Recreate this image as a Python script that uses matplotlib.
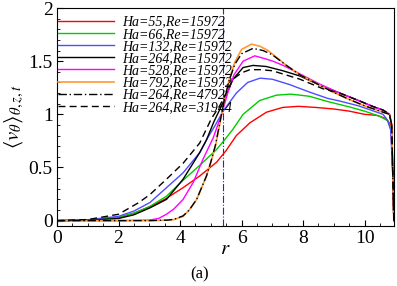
import numpy as np
import matplotlib
matplotlib.use('Agg')
import matplotlib.pyplot as plt
from matplotlib.ticker import MultipleLocator

plt.rcParams['font.family'] = ['Liberation Serif', 'DejaVu Serif']
plt.rcParams['mathtext.fontset'] = 'stix'

# data: r and <v_theta>
r_55 = [0, 1.0, 2.0, 2.5, 3.0, 3.5, 4.1, 4.64, 5.19, 5.5, 5.83, 6.27, 6.81, 7.34, 7.85, 8.4, 9.0, 9.5, 10.0, 10.4, 10.7, 10.85, 10.91, 10.95]
v_55 = [0, 0.005, 0.03, 0.07, 0.13, 0.2, 0.31, 0.42, 0.55, 0.66, 0.8, 0.92, 1.02, 1.065, 1.075, 1.065, 1.05, 1.03, 1.0, 0.99, 0.96, 0.9, 0.5, 0]

r_66 = [0, 1.0, 2.0, 2.5, 3.0, 3.56, 4.1, 4.64, 5.19, 5.45, 5.72, 6.05, 6.59, 7.13, 7.6, 8.2, 8.8, 9.5, 10.0, 10.5, 10.75, 10.87, 10.92, 10.95]
v_66 = [0, 0.005, 0.03, 0.07, 0.13, 0.23, 0.38, 0.52, 0.67, 0.76, 0.86, 1.0, 1.13, 1.18, 1.19, 1.17, 1.12, 1.07, 1.03, 0.98, 0.94, 0.85, 0.4, 0]

r_132 = [0, 1.0, 2.0, 2.5, 3.02, 3.56, 4.1, 4.64, 4.9, 5.15, 5.4, 5.83, 6.2, 6.6, 7.0, 7.56, 8.2, 8.8, 9.19, 9.8, 10.3, 10.6, 10.75, 10.85, 10.92, 10.95]
v_132 = [0, 0.008, 0.04, 0.09, 0.17, 0.31, 0.45, 0.64, 0.78, 0.9, 1.03, 1.2, 1.3, 1.34, 1.33, 1.28, 1.21, 1.15, 1.125, 1.08, 1.03, 1.0, 0.94, 0.85, 0.4, 0]

r_264 = [0, 1.0, 2.0, 2.5, 3.02, 3.56, 4.1, 4.64, 4.86, 5.1, 5.4, 5.72, 6.05, 6.37, 6.8, 7.34, 7.9, 8.5, 9.19, 9.8, 10.3, 10.6, 10.81, 10.88, 10.92, 10.95]
v_264 = [0, 0.003, 0.02, 0.055, 0.12, 0.2, 0.39, 0.64, 0.76, 0.93, 1.11, 1.33, 1.44, 1.46, 1.45, 1.41, 1.36, 1.28, 1.2, 1.13, 1.07, 1.04, 1.0, 0.9, 0.4, 0]

r_528 = [0, 2.0, 3.0, 3.3, 3.56, 3.8, 4.1, 4.43, 4.75, 5.08, 5.35, 5.55, 5.75, 6.05, 6.43, 6.8, 7.02, 7.35, 7.9, 8.5, 9.19, 9.8, 10.3, 10.6, 10.81, 10.88, 10.92, 10.95]
v_528 = [0, 0, 0.005, 0.02, 0.06, 0.11, 0.2, 0.36, 0.58, 0.78, 1.0, 1.2, 1.37, 1.5, 1.55, 1.52, 1.5, 1.46, 1.38, 1.29, 1.2, 1.13, 1.07, 1.04, 1.0, 0.9, 0.4, 0]

r_792 = [0, 2.0, 3.0, 3.6, 3.8, 4.1, 4.3, 4.54, 4.86, 5.0, 5.15, 5.3, 5.45, 5.6, 5.78, 6.0, 6.32, 6.6, 6.86, 7.46, 7.9, 8.5, 8.97, 9.5, 10.0, 10.6, 10.81, 10.88, 10.92, 10.95]
v_792 = [0, 0, 0, 0.005, 0.01, 0.04, 0.1, 0.2, 0.42, 0.55, 0.7, 0.92, 1.15, 1.33, 1.49, 1.61, 1.66, 1.64, 1.6, 1.46, 1.37, 1.28, 1.21, 1.14, 1.08, 1.02, 1.0, 0.9, 0.4, 0]

r_lo = [0, 2.0, 3.0, 3.6, 3.8, 4.1, 4.3, 4.54, 4.86, 5.0, 5.15, 5.3, 5.45, 5.6, 5.78, 6.0, 6.37, 6.7, 7.0, 7.46, 7.9, 8.5, 8.97, 9.5, 10.0, 10.6, 10.81, 10.88, 10.92, 10.95]
v_lo = [0, 0, 0, 0.005, 0.012, 0.045, 0.1, 0.2, 0.42, 0.55, 0.71, 0.93, 1.15, 1.32, 1.47, 1.57, 1.62, 1.6, 1.56, 1.46, 1.37, 1.28, 1.21, 1.14, 1.08, 1.02, 1.0, 0.9, 0.4, 0]

r_hi = [0, 1.0, 1.6, 2.0, 2.66, 3.02, 3.56, 4.1, 4.64, 5.02, 5.29, 5.5, 5.72, 6.0, 6.27, 6.6, 7.0, 7.34, 7.9, 8.65, 9.19, 9.8, 10.3, 10.6, 10.81, 10.88, 10.92, 10.95]
v_hi = [0, 0.01, 0.04, 0.06, 0.17, 0.245, 0.39, 0.54, 0.73, 0.96, 1.08, 1.2, 1.33, 1.39, 1.42, 1.42, 1.41, 1.38, 1.33, 1.24, 1.2, 1.13, 1.07, 1.04, 1.0, 0.9, 0.4, 0]

r_mark = 5.4

fig = plt.figure(figsize=(3.97, 2.86), dpi=100)
ax = fig.add_axes([0.1436, 0.21, 0.8484, 0.762])

ax.axvline(r_mark, color='#2020ff', ls='-.', lw=0.8)

ax.plot(r_55, v_55, color='#ff0000', lw=1.0, label='Ha=55,Re=15972')
ax.plot(r_66, v_66, color='#00cc00', lw=1.0, label='Ha=66,Re=15972')
ax.plot(r_132, v_132, color='#4d4dff', lw=1.0, label='Ha=132,Re=15972')
ax.plot(r_264, v_264, color='black', lw=1.0, label='Ha=264,Re=15972')
ax.plot(r_528, v_528, color='#ff00ff', lw=1.0, label='Ha=528,Re=15972')
ax.plot(r_792, v_792, color='#ff9933', lw=1.2, label='Ha=792,Re=15972')
ax.plot(r_lo, v_lo, color='black', lw=1.0, ls=(0, (6, 2, 1, 2)), label='Ha=264,Re=4792')
ax.plot(r_hi, v_hi, color='black', lw=1.0, ls=(0, (5, 3)), label='Ha=264,Re=31944')

ax.set_xlim(0, 10.95)
ax.set_ylim(-0.05, 2)
ax.xaxis.set_major_locator(MultipleLocator(2))
ax.xaxis.set_minor_locator(MultipleLocator(0.5))
ax.yaxis.set_major_locator(MultipleLocator(0.5))
ax.yaxis.set_minor_locator(MultipleLocator(0.1))
ax.tick_params(which='both', direction='in', top=False, right=False, labelsize=14)
ax.tick_params(which='major', length=4, pad=3)
ax.tick_params(which='minor', length=2.5)
ax.set_yticks([0, 0.5, 1, 1.5, 2])
ax.set_yticklabels(['0', '0.5', '1', '1.5', '2'])

ax.set_xlabel(r'$r$', fontsize=15, labelpad=-5)
ax.set_ylabel(r'$\langle v_{\theta} \rangle_{\theta,z,t}$', fontsize=15, labelpad=2)

leg = ax.legend(loc='upper left', bbox_to_anchor=(0.003, 0.965), frameon=False,
                prop={'family': 'Liberation Serif', 'style': 'italic', 'size': 10},
                handlelength=4.0, handletextpad=0.65, labelspacing=-0.06,
                borderpad=0, borderaxespad=0)

fig.text(0.503, 0.04, '(a)', fontsize=12, ha='center', va='center')

fig.savefig('out.png', dpi=100)
